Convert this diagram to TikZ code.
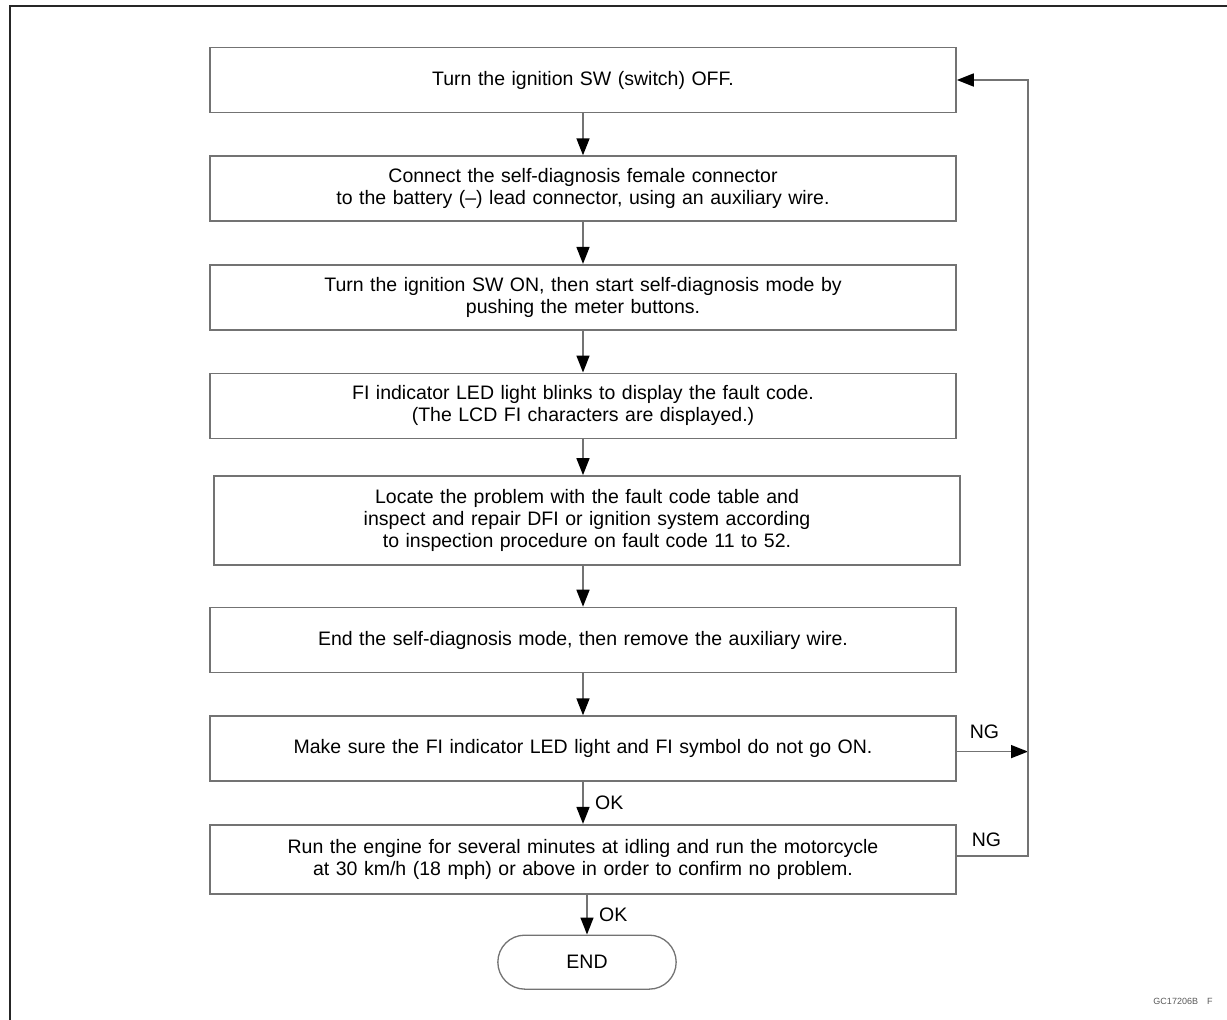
\documentclass[tikz,border=0pt]{standalone}
\usepackage{fontspec}
\setmainfont{Liberation Sans}
\usetikzlibrary{positioning,shapes.misc,arrows.meta}
\tikzstyle{process} = [rectangle, minimum width=746pt, minimum height=65pt, text width=730pt, align=center, draw=black!55, line width=1.6pt]
\tikzstyle{startstop} = [rounded rectangle, minimum width=185pt, minimum height=54pt, draw=black!55, line width=1.3pt]
\tikzstyle{arrow} = [draw=black!55, line width=1.6pt, -{Triangle[length=17pt,width=13pt,color=black]}]

\begin{document}
\begin{tikzpicture}[x=1pt, y=-1pt, node distance=42pt, font=\fontsize{19.5}{22}\selectfont]
  \useasboundingbox (0,0) rectangle (1227,1020);
  \draw[line width=2pt, black!85] (10,1020) -- (10,6) -- (1227,6);
  \node (off)[process] at (583,80) {Turn the ignition SW (switch) OFF.};
  \node (conn)[process, below=of off] {Connect the self-diagnosis female connector\\to the battery (--) lead connector, using an auxiliary wire.};
  \node (on)[process, below=of conn] {Turn the ignition SW ON, then start self-diagnosis mode by\\pushing the meter buttons.};
  \node (blink)[process, below=of on] {FI indicator LED light blinks to display the fault code.\\(The LCD FI characters are displayed.)};
  \node (repair)[process, below=36pt of blink, minimum height=89pt, xshift=4pt] {Locate the problem with the fault code table and\\inspect and repair DFI or ignition system according\\to inspection procedure on fault code 11 to 52.};
  \node (remove)[process, below=41pt of repair, xshift=-4pt] {End the self-diagnosis mode, then remove the auxiliary wire.};
  \node (check)[process, below=of remove] {Make sure the FI indicator LED light and FI symbol do not go ON.};
  \node (ride)[process, below=of check, minimum height=69pt] {Run the engine for several minutes at idling and run the motorcycle\\at 30 km/h (18 mph) or above in order to confirm no problem.};
  \node (stop)[startstop, below=40pt of ride, xshift=4pt] {END};
  \node (code)[font=\fontsize{9}{10}\selectfont, text=black!65] at (1183,1001) {GC17206B\quad F};
  \coordinate (ret) at (1028,0);
  \draw[arrow] (off) -- (conn);
  \draw[arrow] (conn) -- (on);
  \draw[arrow] (on) -- (blink);
  \draw[arrow] (blink) -- (blink |- repair.north);
  \draw[arrow] (blink |- repair.south) -- (remove);
  \draw[arrow] (remove) -- (check);
  \draw[arrow] (check) -- node[right=8pt]{OK} (ride);
  \draw[arrow] (stop |- ride.south) -- node[right=8pt]{OK} (stop);
  \draw[arrow] ([yshift=-3pt]check.east) -- node[above=9pt, xshift=-8pt]{NG} ([yshift=-3pt]check.east -| ret);
  \draw[arrow] ([yshift=3pt]ride.east) -- node[above=5pt, xshift=-6pt]{NG} ([yshift=3pt]ride.east -| ret) |- (off.east);
\end{tikzpicture}
\end{document}
